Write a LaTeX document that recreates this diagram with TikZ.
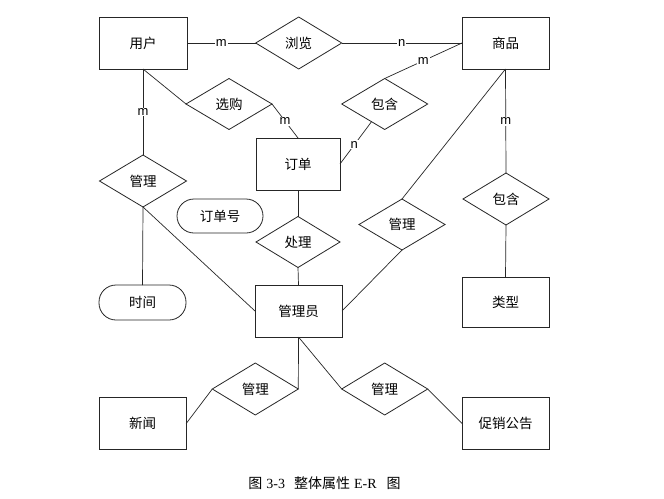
\documentclass[tikz,border=0pt]{standalone}
\usepackage{fontspec}
\setmainfont{Liberation Serif}
\newfontfamily\cjk{Noto Sans CJK SC}
\newfontfamily\lbl{Liberation Sans}
\usetikzlibrary{shapes.geometric}
\begin{document}
\begin{tikzpicture}[x=1pt,y=-1pt,
  every node/.style={inner sep=0pt,outer sep=0pt},
  ent/.style={draw=black!85,line width=0.8pt,rectangle,minimum width=87pt,minimum height=52pt,font=\cjk\fontsize{13.5}{16}\selectfont},
  rel/.style={draw=black!85,line width=0.8pt,diamond,minimum width=86pt,minimum height=52pt,font=\cjk\fontsize{13.5}{16}\selectfont},
  attr/.style={draw=black!85,line width=0.8pt,rectangle,rounded corners=17pt,minimum width=87pt,minimum height=35pt,font=\cjk\fontsize{13.5}{16}\selectfont},
  card/.style={fill=white,inner sep=1pt,font=\lbl\fontsize{13}{15}\selectfont},
  conn/.style={draw=black!85,line width=0.7pt}]
\useasboundingbox[fill=white] (0,0) rectangle (664,498);
% entities
\node[ent,minimum width=88pt] (user) at (143,43) {用户};
\node[ent] (goods) at (505.5,43) {商品};
\node[ent,minimum width=84pt] (order) at (298,164) {订单};
\node[ent] (admin) at (298.5,311) {管理员};
\node[ent,minimum height=50pt] (type) at (505.5,302) {类型};
\node[ent] (news) at (142.7,423.5) {新闻};
\node[ent] (promo) at (505.7,423.5) {促销公告};
% relationships
\node[rel] (browse) at (298.7,43) {浏览};
\node[rel,minimum height=51pt] (select) at (229,104) {选购};
\node[rel,minimum height=51pt] (cont1) at (384.7,104) {包含};
\node[rel,minimum width=87pt] (mgl) at (143,181) {管理};
\node[rel,minimum width=84pt,minimum height=51pt] (handle) at (298,242) {处理};
\node[rel,minimum height=51pt] (mgm) at (402,224.5) {管理};
\node[rel] (cont2) at (506,199) {包含};
\node[rel] (mgbl) at (255.3,389) {管理};
\node[rel] (mgbr) at (384.7,389) {管理};
% attributes
\node[attr,minimum width=86pt,minimum height=34pt] (ordno) at (220,216) {订单号};
\node[attr] (time) at (142.5,302.5) {时间};
% connectors
\draw[conn] (user.east) -- node[card] {m} (browse.west);
\draw[conn] (browse.east) -- node[card] {n} (goods.west);
\draw[conn] (user.south) -- (select.west);
\draw[conn] (select.east) -- node[card] {m} (order.north);
\draw[conn] (cont1.north) -- node[card] {m} (goods.west);
\draw[conn] (cont1) -- node[card,pos=0.55] {n} (order.east);
\draw[conn] (user.south) -- node[card] {m} (mgl.north);
\draw[conn] (mgl.south) -- (time.north);
\draw[conn] (mgl.south) -- (admin.west);
\draw[conn] (goods.south) -- (mgm.north);
\draw[conn] (goods.south) -- node[card] {m} (cont2.north);
\draw[conn] (cont2.south) -- (type.north);
\draw[conn] (mgm.south) -- (admin.east);
\draw[conn] (order.south) -- (handle.north);
\draw[conn] (handle.south) -- (admin.north);
\draw[conn] (admin.south) -- (mgbl.east);
\draw[conn] (mgbl.west) -- (news.east);
\draw[conn] (admin.south) -- (mgbr.west);
\draw[conn] (mgbr.east) -- (promo.west);
% caption
\node[font=\fontsize{14}{16}\selectfont] (cap) at (324.5,483) {{\cjk 图}\hspace{4pt}3-3\hspace{9pt}{\cjk 整体属性}\hspace{4pt}E-R\hspace{10pt}{\cjk 图}};
\end{tikzpicture}
\end{document}
